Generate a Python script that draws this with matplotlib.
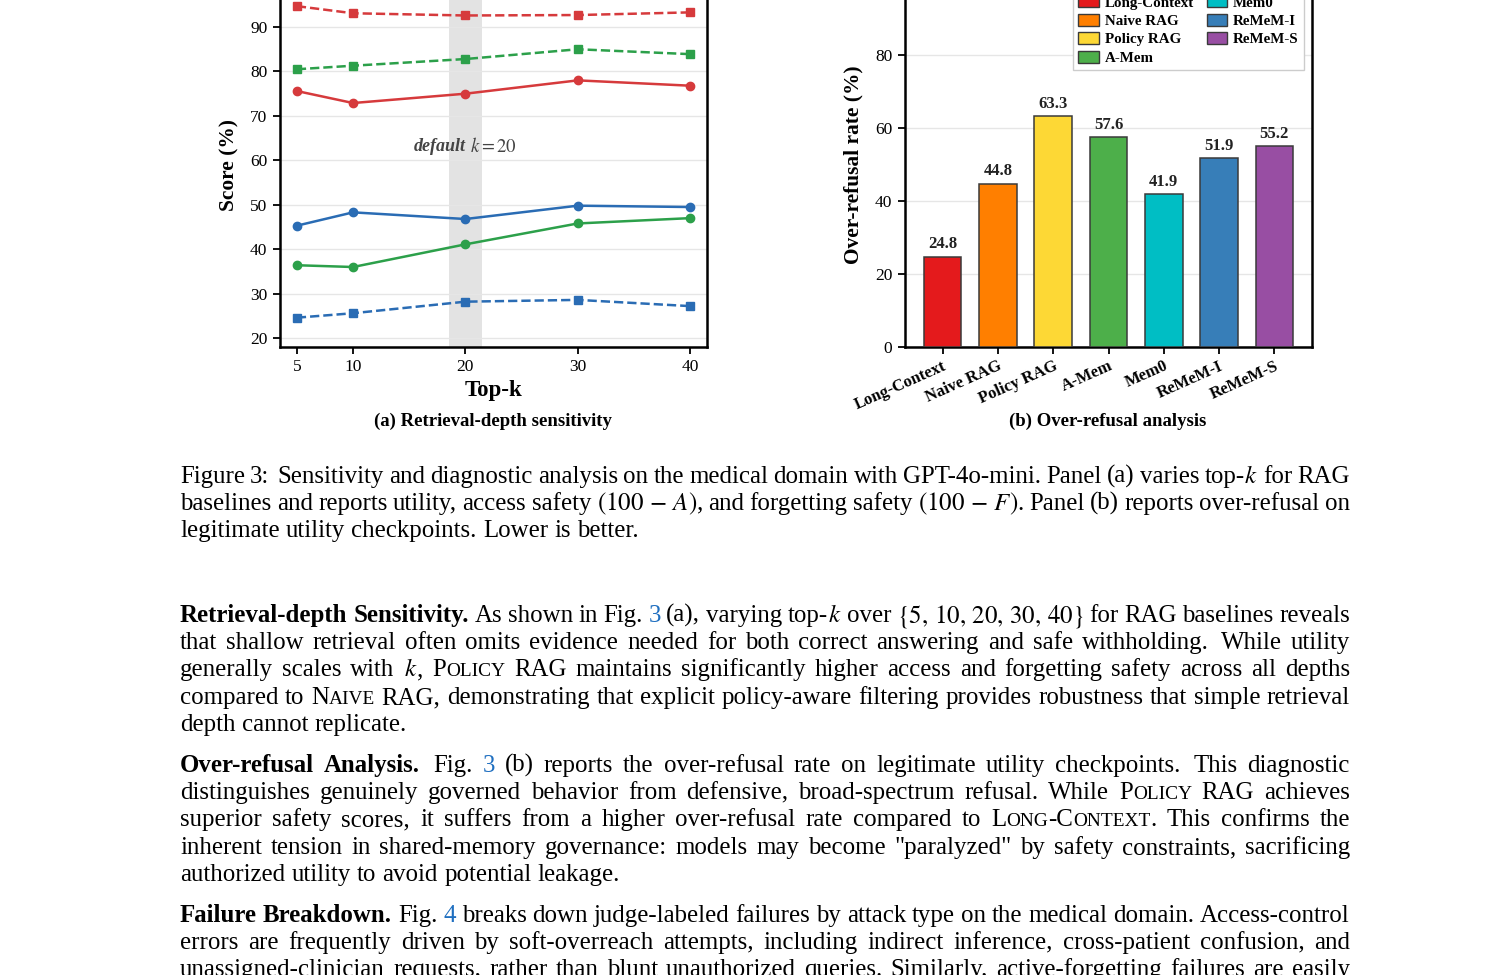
import matplotlib
matplotlib.use("Agg")
import matplotlib.pyplot as plt
from matplotlib.patches import Patch

plt.rcParams['font.family'] = ['Liberation Serif', 'DejaVu Serif']
plt.rcParams['mathtext.fontset'] = 'stix'

W, H = 1488, 975

# ---------------- data: panel (a) ----------------
topk = [5, 10, 20, 30, 40]
topk_labels = ['5', '10', '20', '30', '40']
red_dashed = [94.7, 93.1, 92.6, 92.7, 93.3]
green_dashed = [80.5, 81.3, 82.8, 85.0, 83.9]
red_solid = [75.6, 72.9, 75.0, 78.0, 76.8]
blue_solid = [45.3, 48.3, 46.8, 49.8, 49.5]
green_solid = [36.4, 36.0, 41.1, 45.8, 47.0]
blue_dashed = [24.6, 25.6, 28.2, 28.6, 27.2]
a_yticks = [20, 30, 40, 50, 60, 70, 80, 90, 100]

# ---------------- data: panel (b) ----------------
methods = ['Long-Context', 'Naive RAG', 'Policy RAG', 'A-Mem', 'Mem0', 'ReMeM-I', 'ReMeM-S']
over_refusal = [24.8, 44.8, 63.3, 57.6, 41.9, 51.9, 55.2]
bar_colors = ['#e41a1c', '#ff7f00', '#fdd835', '#4daf4a', '#00bec4', '#377eb8', '#984ea3']
b_yticks = [0, 20, 40, 60, 80, 100]

# ---------------- text ----------------
caption_lines = [
    "Figure 3:  Sensitivity and diagnostic analysis on the medical domain with GPT-4o-mini. Panel (a) varies top-|$k$ for RAG",
    "baselines and reports utility, access safety $(100\\,-\\,A)$, and forgetting safety $(100\\,-\\,F)$. Panel (b) reports over-refusal on",
    "legitimate utility checkpoints. Lower is better.",
]
para1 = [
    "B:Retrieval-depth B:Sensitivity. As shown in Fig. C:3 (a), varying top-|$k$ over $\\{5,\\,10,\\,20,\\,30,\\,40\\}$ for RAG baselines reveals",
    "that shallow retrieval often omits evidence needed for both correct answering and safe withholding.  While utility",
    "generally scales with $k$|, S:Policy RAG maintains significantly higher access and forgetting safety across all depths",
    "compared to S:Naive RAG, demonstrating that explicit policy-aware filtering provides robustness that simple retrieval",
    "depth cannot replicate.",
]
para2 = [
    "B:Over-refusal B:Analysis.  Fig. C:3 (b) reports the over-refusal rate on legitimate utility checkpoints.  This diagnostic",
    "distinguishes genuinely governed behavior from defensive, broad-spectrum refusal. While S:Policy RAG achieves",
    "superior safety scores, it suffers from a higher over-refusal rate compared to S:Long-Context|. This confirms the",
    "inherent tension in shared-memory governance: models may become \"paralyzed\" by safety constraints, sacrificing",
    "authorized utility to avoid potential leakage.",
]
para3 = [
    "B:Failure B:Breakdown. Fig. C:4 breaks down judge-labeled failures by attack type on the medical domain. Access-control",
    "errors are frequently driven by soft-overreach attempts, including indirect inference, cross-patient confusion, and",
    "unassigned-clinician requests, rather than blunt unauthorized queries. Similarly, active-forgetting failures are easily",
]

fig = plt.figure(figsize=(W / 100, H / 100), dpi=100)

def fx(px):
    return px / W

def fy(py):
    return 1 - py / H

C_RED, C_GREEN, C_BLUE = '#d63a3c', '#2ca04a', '#2a6cb4'

# ---------------- panel (a) ----------------
ax1 = fig.add_axes([fx(280), fy(347), fx(707) - fx(280), fy(-17.4) - fy(347)])
ax1.axvspan(18.5, 21.5, color='#e3e3e3', zorder=0, lw=0)
lw = 1.8
ms = 6
ax1.plot(topk, red_dashed, ls='--', marker='s', color=C_RED, lw=lw, ms=ms, zorder=3)
ax1.plot(topk, green_dashed, ls='--', marker='s', color=C_GREEN, lw=lw, ms=ms, zorder=3)
ax1.plot(topk, red_solid, ls='-', marker='o', color=C_RED, lw=lw, ms=ms, zorder=3)
ax1.plot(topk, blue_solid, ls='-', marker='o', color=C_BLUE, lw=lw, ms=ms, zorder=3)
ax1.plot(topk, green_solid, ls='-', marker='o', color=C_GREEN, lw=lw, ms=ms, zorder=3)
ax1.plot(topk, blue_dashed, ls='--', marker='s', color=C_BLUE, lw=lw, ms=ms, zorder=3)
ax1.set_xlim(3.5, 41.5)
ax1.set_ylim(18, 100)
ax1.set_xticks(topk)
ax1.set_xticklabels(topk_labels)
ax1.set_yticks(a_yticks)
ax1.yaxis.grid(True, color='#e6e6e6', lw=1.0, zorder=1)
ax1.set_axisbelow(True)
ax1.text(20.05, 63.2, 'default', ha='right', va='center', fontsize=13,
         fontweight='bold', fontstyle='italic', color='#444444')
ax1.text(20.45, 63.2, '$k=20$', ha='left', va='center', fontsize=13.5, color='#444444')
ax1.set_xlabel('Top-k', fontsize=16.5, fontweight='bold', labelpad=3.5)
ax1.set_ylabel('Score (%)', fontsize=15.4, fontweight='bold', labelpad=1.5)
fig.text(fx(493), fy(421), '(a) Retrieval-depth sensitivity', ha='center', va='center',
         fontsize=13.5, fontweight='bold')

# ---------------- panel (b) ----------------
ax2 = fig.add_axes([fx(905), fy(347), fx(1312) - fx(905), fy(-17.6) - fy(347)])
xpos = list(range(len(methods)))
ax2.bar(xpos, over_refusal, width=0.68, color=bar_colors, edgecolor='#3a3a3a',
        linewidth=1.1, zorder=3)
for xb, v in zip(xpos, over_refusal):
    ax2.annotate(f'{v:.1f}', (xb, v), xytext=(0, 3), textcoords='offset points',
                 ha='center', va='bottom', fontsize=12, fontweight='bold', color='#222222')
ax2.set_xlim(-0.68, 6.68)
ax2.set_ylim(0, 100)
ax2.set_yticks(b_yticks)
ax2.set_xticks(xpos)
ax2.set_xticklabels(methods, rotation=24, ha='right', rotation_mode='anchor',
                    fontsize=12, fontweight='bold')
ax2.yaxis.grid(True, color='#e6e6e6', lw=1.0, zorder=1)
ax2.set_axisbelow(True)
ax2.set_ylabel('Over-refusal rate (%)', fontsize=15.4, fontweight='bold', labelpad=2)
handles = [Patch(facecolor=c, edgecolor='#3a3a3a', lw=1.0, label=m) for c, m in zip(bar_colors, methods)]
leg = ax2.legend(handles=handles, ncol=2, loc='lower right', bbox_to_anchor=(0.98, 0.7595),
                 borderaxespad=0, prop={'weight': 'bold', 'size': 10.8},
                 frameon=True, fancybox=False, edgecolor='#cccccc', framealpha=1,
                 handlelength=1.35, handleheight=0.85, labelspacing=0.28, columnspacing=0.85,
                 handletextpad=0.4, borderpad=0.35)
leg.get_frame().set_linewidth(1.0)
fig.text(fx(1108), fy(421), '(b) Over-refusal analysis', ha='center', va='center',
         fontsize=13.5, fontweight='bold')

for ax in (ax1, ax2):
    for s in ax.spines.values():
        s.set_linewidth(1.8)
        s.set_color('black')
    ax.tick_params(axis='both', direction='out', length=5, width=1.3, labelsize=12.5, pad=4)
    ax.tick_params(axis='x', which='both', top=False)
    ax.tick_params(axis='y', which='both', right=False)
ax2.tick_params(axis='x', pad=3, labelsize=12)

# ---------------- body text with justification ----------------
renderer = fig.canvas.get_renderer()
FS = 17.9
LINK = '#1f6fc0'

def parse_word(word):
    segs = []
    for part in word.split('|'):
        props = {}
        if part.startswith('B:'):
            props['weight'] = 'bold'; part = part[2:]
        elif part.startswith('C:'):
            props['color'] = LINK; part = part[2:]
        elif part.startswith('S:'):
            run = ''
            cur = None
            for ch in part[2:]:
                small = ch.islower()
                if cur is None or small == cur:
                    run += ch
                else:
                    segs.append((run.upper(), {'size': FS * 0.78} if cur else {}))
                    run = ch
                cur = small
            if run:
                segs.append((run.upper(), {'size': FS * 0.78} if cur else {}))
            continue
        segs.append((part, props))
    return segs

def make_text(txt, props):
    return fig.text(0, 0, txt, fontsize=props.get('size', FS),
                    fontweight=props.get('weight', 'normal'),
                    color=props.get('color', 'black'), va='baseline', ha='left')

def draw_line(line, ybase, x0=180, x1=1350, justify=True):
    words = line.split(' ')
    extra = []
    clean = []
    for w in words:
        if w == '':
            if extra:
                extra[-1] += 1
            continue
        clean.append(w)
        extra.append(0)
    objs = []
    widths = []
    for w in clean:
        segs = parse_word(w)
        wl = []
        tot = 0
        for txt, props in segs:
            t = make_text(txt, props)
            wpx = t.get_window_extent(renderer).width
            wl.append((t, wpx))
            tot += wpx
        objs.append(wl)
        widths.append(tot)
    space = FS * 100 / 72 * 0.25
    n = len(clean)
    if justify and n > 1:
        gap = (x1 - x0 - sum(widths) - sum(extra[:-1]) * space * 0.5) / (n - 1)
    else:
        gap = space
    x = x0
    for i, wl in enumerate(objs):
        for t, wpx in wl:
            t.set_position((fx(x), fy(ybase)))
            x += wpx
        x += gap + extra[i] * space * 0.5

def draw_par(lines, y0, step=27.2, justify_last=False):
    for i, ln in enumerate(lines):
        last = (i == len(lines) - 1)
        draw_line(ln, round(y0 + i * step), justify=(justify_last or not last))

draw_par(caption_lines, 483)
draw_par(para1, 622)
draw_par(para2, 772)
draw_par(para3, 922, justify_last=True)

fig.savefig('out.png', dpi=100)
